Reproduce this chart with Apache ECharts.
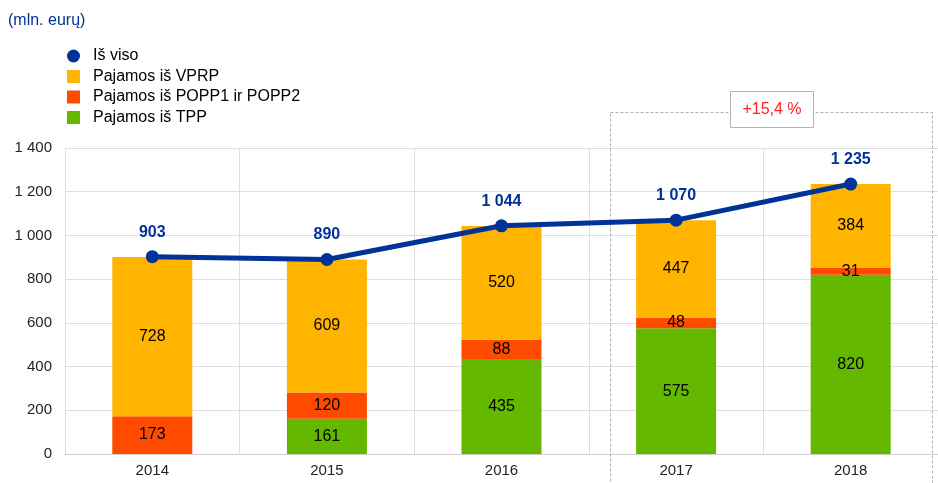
<!DOCTYPE html>
<html>
<head>
<meta charset="utf-8">
<script src="https://cdn.jsdelivr.net/npm/echarts@6/dist/echarts.min.js"></script>
<style>
  html, body { margin: 0; padding: 0; background: #fff; }
  #chart { width: 938px; height: 483px; }
</style>
</head>
<body>
<div id="chart"></div>
<script>
var years = ["2014", "2015", "2016", "2017", "2018"];
var totalVals = [903, 890, 1044, 1070, 1235];
var vprpVals = [728, 609, 520, 447, 384];
var poppVals = [173, 120, 88, 48, 31];
var tppVals = [null, 161, 435, 575, 820];
var yTicks = [0, 200, 400, 600, 800, 1000, 1200, 1400];

var blue = "#003299";
var fontFamily = "Liberation Sans, Arial, sans-serif";

function fmt(v) {
  return String(v).replace(/\B(?=(\d{3})+(?!\d))/g, " ");
}

var chart = echarts.init(document.getElementById("chart"));

var barLabel = {
  show: true,
  position: "inside",
  color: "#000",
  fontSize: 16,
  fontFamily: fontFamily,
  formatter: function (p) { return p.value == null ? "" : fmt(p.value); }
};

var option = {
  animation: false,
  textStyle: { fontFamily: fontFamily },
  title: {
    text: "(mln. eurų)",
    left: 8,
    top: 13,
    padding: 0,
    textStyle: { color: blue, fontSize: 16, fontWeight: "normal", fontFamily: fontFamily }
  },
  legend: {
    orient: "vertical",
    left: 67,
    top: 48,
    padding: 0,
    itemWidth: 13,
    itemHeight: 13,
    itemGap: 4.5,
    textStyle: { color: "#000", fontSize: 16, fontFamily: fontFamily, padding: [0, 0, 0, 8] },
    data: [
      { name: "Iš viso", icon: "circle" },
      { name: "Pajamos iš VPRP", icon: "rect" },
      { name: "Pajamos iš POPP1 ir POPP2", icon: "rect" },
      { name: "Pajamos iš TPP", icon: "rect" }
    ]
  },
  grid: { left: 65, right: -11, top: 148, bottom: 29 },
  xAxis: {
    type: "category",
    data: years,
    axisTick: { show: false },
    axisLine: { lineStyle: { color: "#d0d0d0" } },
    axisLabel: { color: "#222", fontSize: 15, margin: 9, fontFamily: fontFamily },
    splitLine: { show: true, lineStyle: { color: "#dedede" } }
  },
  yAxis: {
    type: "value",
    min: yTicks[0],
    max: yTicks[yTicks.length - 1],
    interval: 200,
    axisLine: { show: true, lineStyle: { color: "#dedede" } },
    axisTick: { show: false },
    axisLabel: { color: "#222", fontSize: 15, margin: 13, fontFamily: fontFamily, formatter: fmt },
    splitLine: { lineStyle: { color: "#dedede" } }
  },
  series: [
    {
      name: "Pajamos iš TPP",
      type: "bar",
      stack: "s",
      barWidth: 80,
      itemStyle: { color: "#65B800" },
      label: barLabel,
      data: tppVals
    },
    {
      name: "Pajamos iš POPP1 ir POPP2",
      type: "bar",
      stack: "s",
      barWidth: 80,
      itemStyle: { color: "#FF4B00" },
      label: barLabel,
      data: poppVals
    },
    {
      name: "Pajamos iš VPRP",
      type: "bar",
      stack: "s",
      barWidth: 80,
      itemStyle: { color: "#FFB400" },
      label: barLabel,
      data: vprpVals
    },
    {
      name: "Iš viso",
      type: "line",
      symbol: "circle",
      symbolSize: 13,
      z: 5,
      itemStyle: { color: blue },
      lineStyle: { color: blue, width: 5 },
      label: {
        show: true,
        position: "top",
        distance: 10,
        color: blue,
        fontWeight: "bold",
        fontSize: 16,
        fontFamily: fontFamily,
        formatter: function (p) { return fmt(p.value); }
      },
      data: totalVals
    }
  ],
  graphic: [
    {
      type: "rect",
      shape: { x: 610.5, y: 112.5, width: 322, height: 380 },
      style: { fill: null, stroke: "#b0b0b0", lineWidth: 1, lineDash: [3, 2] },
      z: 1,
      silent: true
    },
    {
      type: "rect",
      shape: { x: 730.5, y: 91.5, width: 83, height: 36 },
      style: { fill: "#fff", stroke: "#b0b0b0", lineWidth: 1 },
      z: 10
    },
    {
      type: "text",
      x: 772,
      y: 110,
      z: 11,
      style: {
        text: "+15,4 %",
        fill: "#ff2020",
        fontSize: 16,
        fontFamily: fontFamily,
        align: "center",
        verticalAlign: "middle"
      }
    }
  ]
};

chart.setOption(option);
</script>
</body>
</html>
